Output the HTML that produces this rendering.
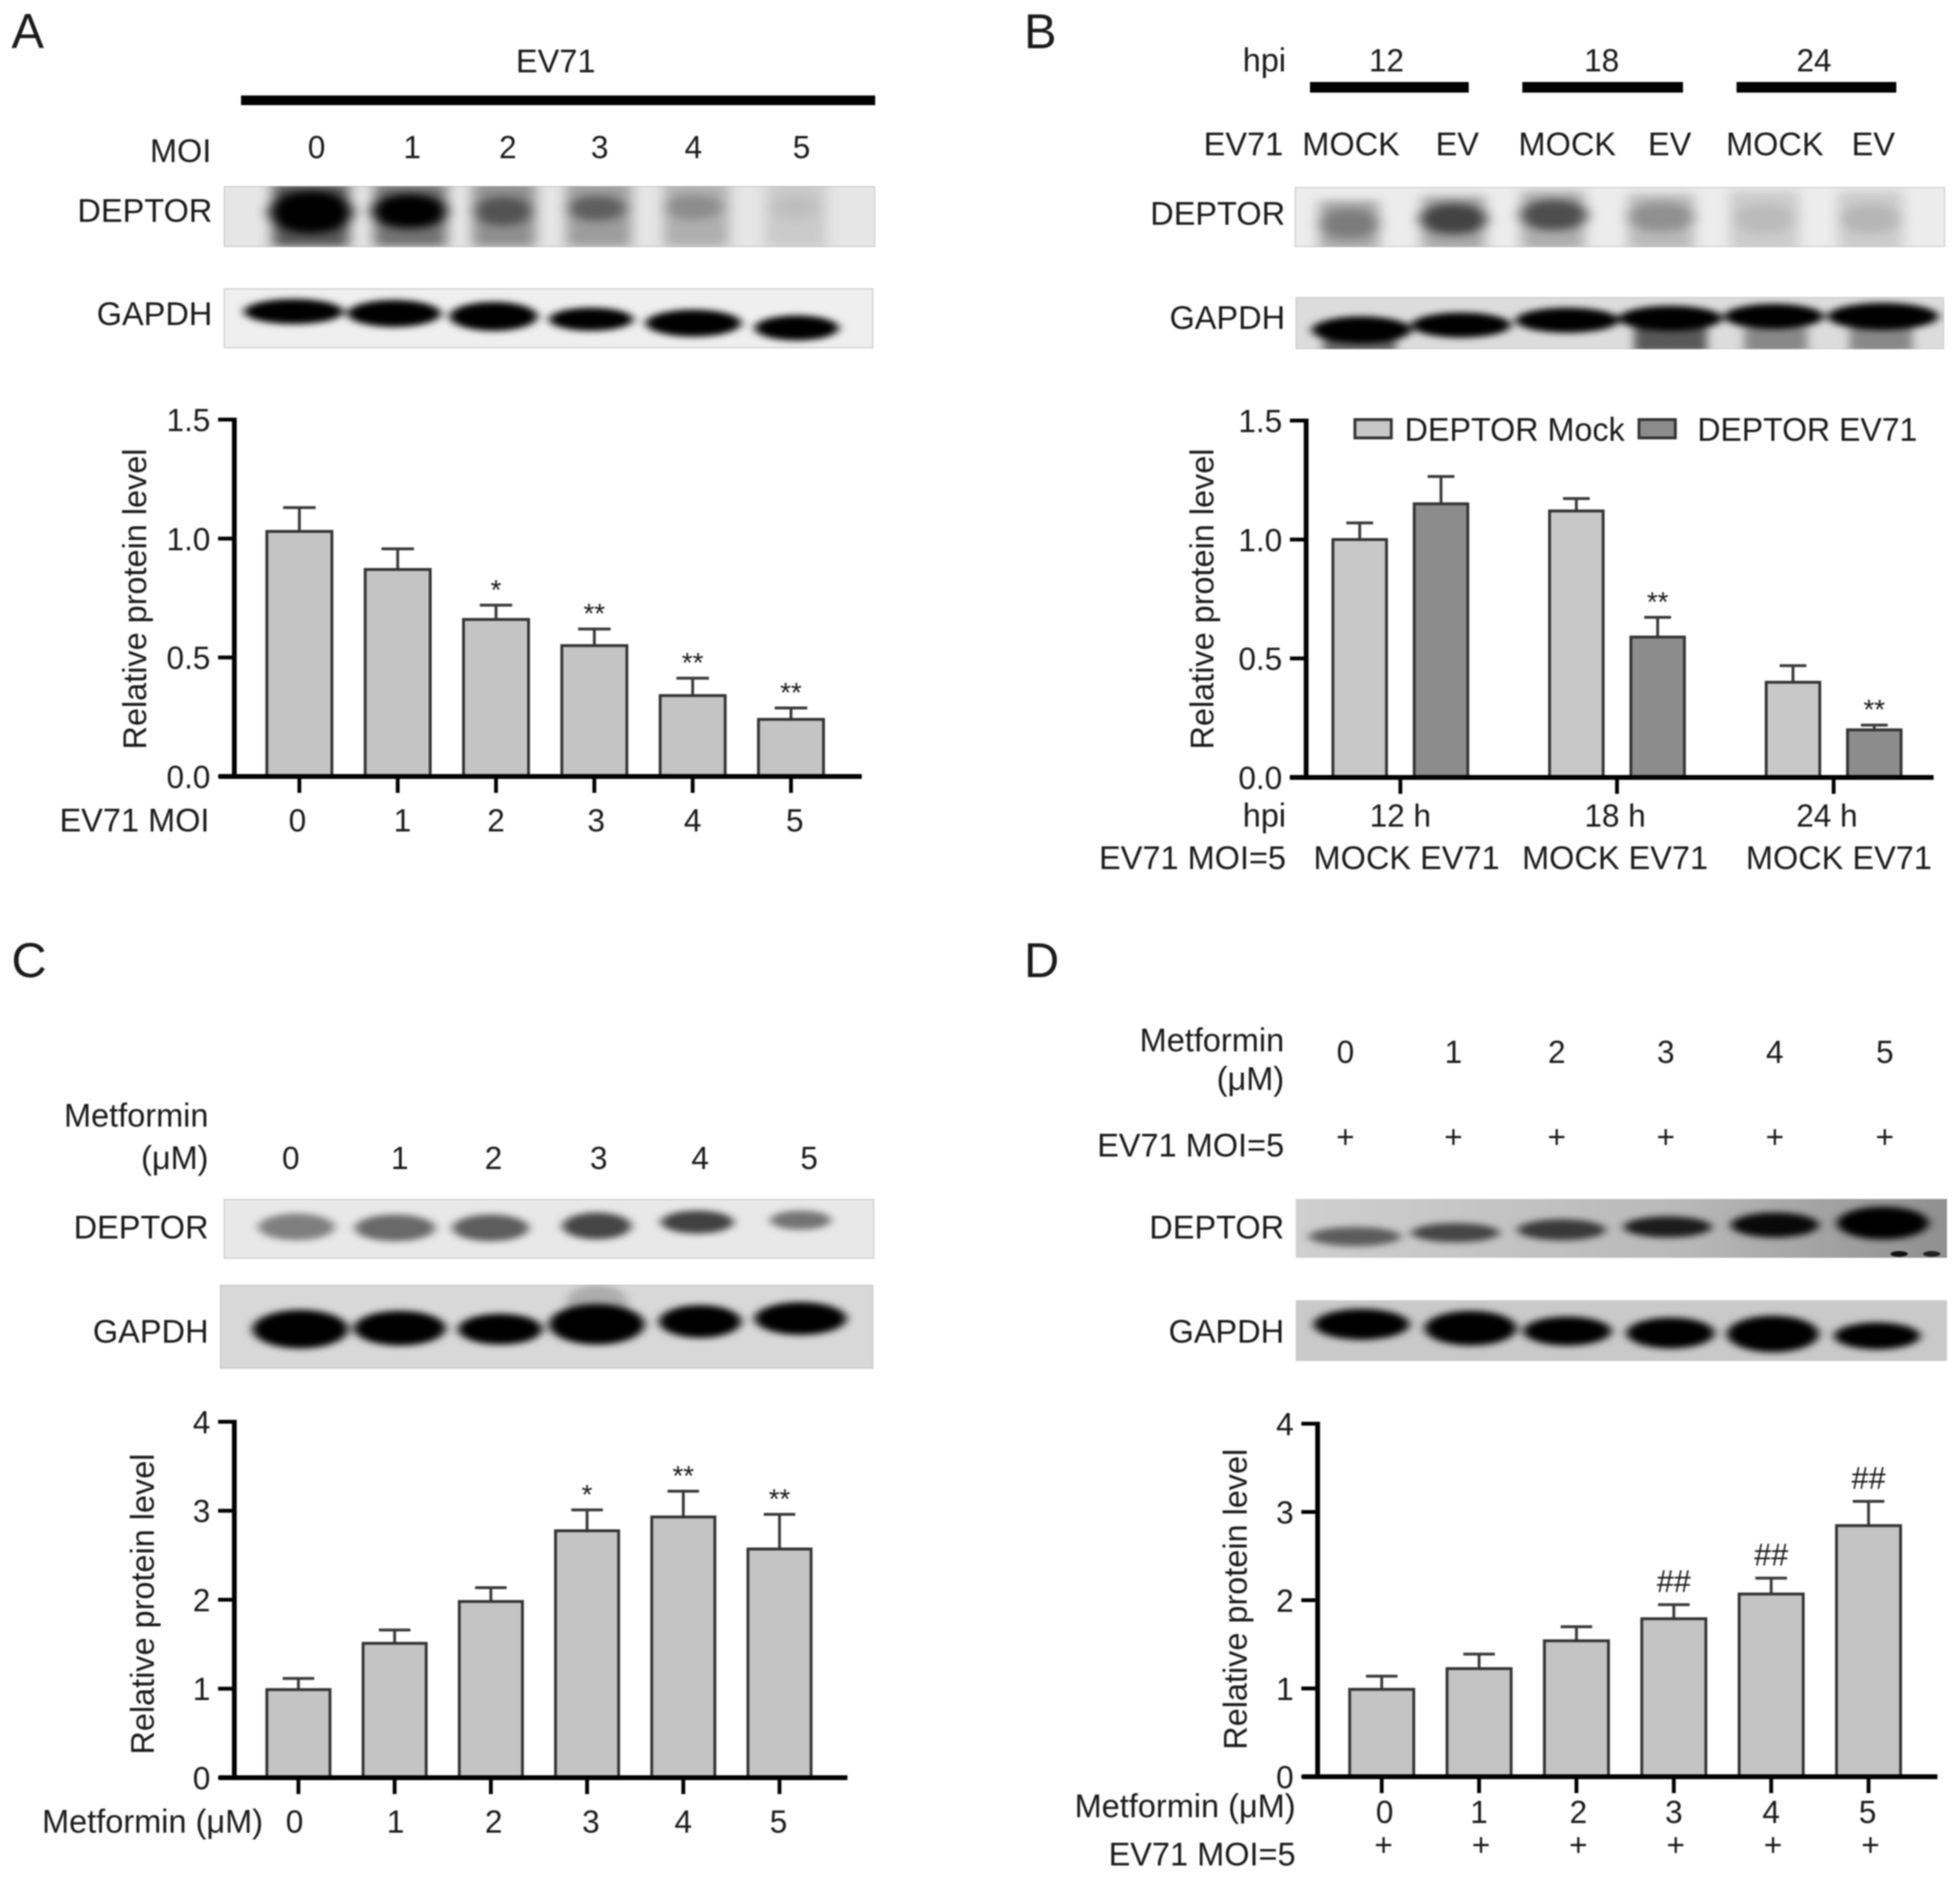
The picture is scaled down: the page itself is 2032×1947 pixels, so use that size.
<!DOCTYPE html>
<html lang="en"><head><meta charset="utf-8"><title>DEPTOR western blots and quantification</title>
<style>
html,body{margin:0;padding:0;background:#fff}
svg#fig{display:block;filter:blur(.7px)}
text{font-family:"Liberation Sans",sans-serif;fill:#1a1a1a;font-size:34px}
.n{font-size:33px}
.e{text-anchor:end}
.m{text-anchor:middle}
.p{font-size:51px}
</style></head><body>
<svg id="fig" xmlns="http://www.w3.org/2000/svg" width="2032" height="1947" viewBox="0 0 2032 1947">
<defs>
<filter id="b2" x="-40%" y="-80%" width="180%" height="260%"><feGaussianBlur stdDeviation="5 3.5"/></filter>
<filter id="b3" x="-40%" y="-80%" width="180%" height="260%"><feGaussianBlur stdDeviation="7 4.5"/></filter>
<linearGradient id="dgrad" x1="0" x2="1" y1="0" y2="0"><stop offset="0" stop-color="#cfcfcf"/><stop offset=".6" stop-color="#b8b8b8"/><stop offset="1" stop-color="#8f8f8f"/></linearGradient>
</defs>
<rect width="2032" height="1947" fill="#fff"/>

<g id="left-column" transform="scale(.9916 1)">
<text class="p" x="12" y="50">A</text>
<text class="p" x="12" y="1013">C</text>

<!-- Panel A header -->
<text class="m" x="581" y="75">EV71</text>
<rect x="252" y="99" width="663" height="10" fill="#000"/>
<text class="e" x="221" y="168">MOI</text>
<text class="n m" x="331" y="164">0</text>
<text class="n m" x="431" y="164">1</text>
<text class="n m" x="531" y="164">2</text>
<text class="n m" x="627" y="164">3</text>
<text class="n m" x="725" y="164">4</text>
<text class="n m" x="838" y="164">5</text>
<text class="e" x="222" y="230">DEPTOR</text>
<text class="e" x="222" y="337">GAPDH</text>

<!-- Blot A DEPTOR -->
<svg x="234" y="193" width="681" height="63" viewBox="234 193 681 63">
<rect x="234" y="193" width="681" height="63" fill="#e6e6e6" stroke="#c4c4c4" stroke-width="2"/>
<g filter="url(#b3)">
<rect x="285" y="190" width="80" height="66" fill="#000" opacity=".62"/>
<rect x="391" y="190" width="76" height="66" fill="#000" opacity=".5"/>
<rect x="494" y="190" width="66" height="66" fill="#000" opacity=".38"/>
<rect x="592" y="190" width="68" height="66" fill="#000" opacity=".32"/>
<rect x="694" y="190" width="68" height="66" fill="#000" opacity=".24"/>
<rect x="800" y="190" width="64" height="66" fill="#000" opacity=".12"/>
<ellipse cx="325" cy="220" rx="44" ry="22" fill="#000"/>
<ellipse cx="428" cy="219" rx="40" ry="18" fill="#000"/>
<ellipse cx="526" cy="219" rx="30" ry="15" fill="#000" opacity=".42"/>
<ellipse cx="624" cy="216" rx="30" ry="13" fill="#000" opacity=".4"/>
<ellipse cx="725" cy="215" rx="30" ry="13" fill="#000" opacity=".2"/>
<ellipse cx="832" cy="215" rx="24" ry="13" fill="#000" opacity=".06"/>
</g></svg>

<!-- Blot A GAPDH -->
<svg x="234" y="299" width="679" height="62" viewBox="234 299 679 62">
<rect x="234" y="299" width="679" height="62" fill="#efefef" stroke="#c4c4c4" stroke-width="2"/>
<g filter="url(#b2)">
<ellipse cx="307" cy="323" rx="52" ry="13" fill="#000"/>
<ellipse cx="412" cy="325" rx="49" ry="14" fill="#000"/>
<ellipse cx="516" cy="328" rx="46" ry="15" fill="#000"/>
<ellipse cx="618" cy="331" rx="44" ry="12" fill="#000"/>
<ellipse cx="725" cy="335" rx="50" ry="14" fill="#000"/>
<ellipse cx="833" cy="340" rx="44" ry="13" fill="#000"/>
</g></svg>

<!-- Panel C header -->
<text class="e" x="218" y="1168">Metformin</text>
<text class="e" x="218" y="1212">(μM)</text>
<text class="n m" x="304" y="1212">0</text>
<text class="n m" x="418" y="1212">1</text>
<text class="n m" x="516" y="1212">2</text>
<text class="n m" x="626" y="1212">3</text>
<text class="n m" x="732" y="1212">4</text>
<text class="n m" x="846" y="1212">5</text>
<text class="e" x="218" y="1284">DEPTOR</text>
<text class="e" x="218" y="1392">GAPDH</text>

<!-- Blot C DEPTOR -->
<svg x="234" y="1243" width="680" height="62" viewBox="234 1243 680 62">
<rect x="234" y="1243" width="680" height="62" fill="#e8e8e8" stroke="#c8c8c8" stroke-width="2"/>
<g filter="url(#b2)">
<ellipse cx="310" cy="1272" rx="40" ry="14" fill="#000" opacity=".45"/>
<ellipse cx="413" cy="1273" rx="42" ry="14" fill="#000" opacity=".55"/>
<ellipse cx="513" cy="1273" rx="40" ry="14" fill="#000" opacity=".6"/>
<ellipse cx="624" cy="1271" rx="36" ry="14" fill="#000" opacity=".7"/>
<ellipse cx="729" cy="1267" rx="38" ry="12" fill="#000" opacity=".72"/>
<ellipse cx="837" cy="1265" rx="32" ry="10" fill="#000" opacity=".5"/>
</g></svg>

<!-- Blot C GAPDH -->
<svg x="230" y="1332" width="683" height="87" viewBox="230 1332 683 87">
<rect x="230" y="1332" width="683" height="87" fill="#d8d8d8" stroke="#c4c4c4" stroke-width="2"/>
<g filter="url(#b2)">
<ellipse cx="624" cy="1350" rx="32" ry="18" fill="#000" opacity=".2"/>
<ellipse cx="314" cy="1378" rx="50" ry="20" fill="#000"/>
<ellipse cx="418" cy="1377" rx="48" ry="18" fill="#000"/>
<ellipse cx="523" cy="1378" rx="44" ry="16" fill="#000"/>
<ellipse cx="624" cy="1373" rx="50" ry="21" fill="#000"/>
<ellipse cx="732" cy="1370" rx="43" ry="17" fill="#000"/>
<ellipse cx="837" cy="1367" rx="48" ry="17" fill="#000"/>
</g></svg>

<text class="e" x="219" y="862">EV71 MOI</text>
<text class="e" x="275" y="1900">Metformin (μM)</text>
</g>

<g id="right-column" transform="translate(1016 0) scale(.9916 1) translate(-1016 0)">
<text class="p" x="1062" y="50">B</text>
<text class="p" x="1062" y="1013">D</text>

<!-- Panel B header -->
<text class="e" x="1336" y="74">hpi</text>
<text class="n m" x="1441" y="74">12</text>
<text class="n m" x="1666" y="74">18</text>
<text class="n m" x="1888" y="74">24</text>
<rect x="1361" y="85" width="166" height="11" fill="#000"/>
<rect x="1583" y="85" width="168" height="11" fill="#000"/>
<rect x="1807" y="85" width="167" height="11" fill="#000"/>
<text class="e" x="1333" y="161">EV71</text>
<text class="m" x="1404" y="161">MOCK</text>
<text class="m" x="1515" y="161">EV</text>
<text class="m" x="1630" y="161">MOCK</text>
<text class="m" x="1737" y="161">EV</text>
<text class="m" x="1847" y="161">MOCK</text>
<text class="m" x="1950" y="161">EV</text>
<text class="e" x="1335" y="233">DEPTOR</text>
<text class="e" x="1335" y="341">GAPDH</text>

<!-- Blot B DEPTOR -->
<svg x="1345" y="194" width="680" height="62" viewBox="1345 194 680 62">
<rect x="1345" y="194" width="680" height="62" fill="#ececec" stroke="#c8c8c8" stroke-width="2"/>
<g filter="url(#b3)">
<rect x="1371" y="208" width="62" height="50" fill="#000" opacity=".3"/>
<rect x="1478" y="203" width="66" height="55" fill="#000" opacity=".3"/>
<rect x="1582" y="198" width="66" height="60" fill="#000" opacity=".27"/>
<rect x="1694" y="201" width="68" height="57" fill="#000" opacity=".22"/>
<rect x="1800" y="198" width="72" height="60" fill="#000" opacity=".14"/>
<rect x="1913" y="198" width="68" height="60" fill="#000" opacity=".14"/>
<ellipse cx="1402" cy="232" rx="32" ry="15" fill="#000" opacity=".25"/>
<ellipse cx="1511" cy="227" rx="36" ry="16" fill="#000" opacity=".6"/>
<ellipse cx="1616" cy="223" rx="36" ry="16" fill="#000" opacity=".55"/>
<ellipse cx="1728" cy="225" rx="36" ry="15" fill="#000" opacity=".22"/>
<ellipse cx="1836" cy="227" rx="32" ry="15" fill="#000" opacity=".08"/>
<ellipse cx="1947" cy="227" rx="32" ry="15" fill="#000" opacity=".1"/>
</g></svg>

<!-- Blot B GAPDH -->
<svg x="1346" y="308" width="678" height="54" viewBox="1346 308 678 54">
<rect x="1346" y="308" width="678" height="54" fill="#dcdcdc" stroke="#c8c8c8" stroke-width="2"/>
<g filter="url(#b2)">
<rect x="1375" y="345" width="76" height="20" fill="#000" opacity=".55"/>
<rect x="1700" y="340" width="76" height="25" fill="#000" opacity=".6"/>
<rect x="1815" y="340" width="66" height="25" fill="#000" opacity=".38"/>
<rect x="1925" y="340" width="66" height="25" fill="#000" opacity=".38"/>
<ellipse cx="1415" cy="342" rx="52" ry="14" fill="#000"/>
<ellipse cx="1519" cy="337" rx="52" ry="13" fill="#000"/>
<ellipse cx="1630" cy="332" rx="54" ry="13" fill="#000"/>
<ellipse cx="1738" cy="330" rx="54" ry="13" fill="#000"/>
<ellipse cx="1846" cy="328" rx="52" ry="13" fill="#000"/>
<ellipse cx="1960" cy="328" rx="58" ry="14" fill="#000"/>
</g></svg>

<!-- Panel D header -->
<text class="e" x="1334" y="1090">Metformin</text>
<text class="e" x="1334" y="1130">(μM)</text>
<text class="n m" x="1398" y="1102">0</text>
<text class="n m" x="1511" y="1102">1</text>
<text class="n m" x="1619" y="1102">2</text>
<text class="n m" x="1733" y="1102">3</text>
<text class="n m" x="1847" y="1102">4</text>
<text class="n m" x="1962" y="1102">5</text>
<text class="e" x="1334" y="1199">EV71 MOI=5</text>
<text class="n m" x="1398" y="1190">+</text>
<text class="n m" x="1511" y="1190">+</text>
<text class="n m" x="1619" y="1190">+</text>
<text class="n m" x="1733" y="1190">+</text>
<text class="n m" x="1847" y="1190">+</text>
<text class="n m" x="1962" y="1190">+</text>
<text class="e" x="1334" y="1284">DEPTOR</text>
<text class="e" x="1334" y="1392">GAPDH</text>

<!-- Blot D DEPTOR -->
<svg x="1346" y="1243" width="681" height="61" viewBox="1346 1243 681 61">
<rect x="1346" y="1243" width="681" height="61" fill="url(#dgrad)"/>
<g filter="url(#b2)">
<ellipse cx="1408" cy="1282" rx="48" ry="10" fill="#000" opacity=".55"/>
<ellipse cx="1513" cy="1278" rx="46" ry="10" fill="#000" opacity=".65"/>
<ellipse cx="1624" cy="1275" rx="46" ry="11" fill="#000" opacity=".7"/>
<ellipse cx="1735" cy="1272" rx="46" ry="11" fill="#000" opacity=".85"/>
<ellipse cx="1847" cy="1270" rx="46" ry="13" fill="#000" opacity=".95"/>
<ellipse cx="1960" cy="1268" rx="48" ry="17" fill="#000"/>
</g>
<ellipse cx="1977" cy="1300" rx="9" ry="3" fill="#111"/>
<ellipse cx="2011" cy="1300" rx="9" ry="3" fill="#222"/>
</svg>

<!-- Blot D GAPDH -->
<svg x="1346" y="1348" width="681" height="63" viewBox="1346 1348 681 63">
<rect x="1346" y="1348" width="681" height="63" fill="#c9c9c9"/>
<g filter="url(#b2)">
<ellipse cx="1415" cy="1373" rx="50" ry="16" fill="#000"/>
<ellipse cx="1529" cy="1377" rx="48" ry="18" fill="#000"/>
<ellipse cx="1630" cy="1380" rx="46" ry="15" fill="#000"/>
<ellipse cx="1738" cy="1382" rx="46" ry="16" fill="#000"/>
<ellipse cx="1845" cy="1383" rx="48" ry="19" fill="#000"/>
<ellipse cx="1954" cy="1385" rx="45" ry="14" fill="#000"/>
</g></svg>

<text class="e" x="1336" y="857">hpi</text>
<text class="e" x="1336" y="901">EV71 MOI=5</text>
<text class="m" x="1462" y="901">MOCK EV71</text>
<text class="m" x="1680" y="901">MOCK EV71</text>
<text class="m" x="1914" y="901">MOCK EV71</text>
<text class="e" x="1346" y="1884">Metformin (μM)</text>
<text class="e" x="1346" y="1934">EV71 MOI=5</text>
</g>
</svg>

<script>
// Panel A
const aCategories = ['0', '1', '2', '3', '4', '5'];
const aValues = [1.03, 0.87, 0.66, 0.55, 0.34, 0.24];
const aErrors = [0.10, 0.087, 0.06, 0.07, 0.073, 0.048];
const aMarks = ['', '', '*', '**', '**', '**'];
const aTickValues = [0, 0.5, 1, 1.5];
const aTickLabels = ['0.0', '0.5', '1.0', '1.5'];

// Panel B
const bGroups = ['12 h', '18 h', '24 h'];
const bSeriesNames = ['DEPTOR Mock', 'DEPTOR EV71'];
const bMockValues = [1.0, 1.12, 0.40];
const bMockErrors = [0.07, 0.052, 0.07];
const bEv71Values = [1.15, 0.59, 0.20];
const bEv71Errors = [0.115, 0.083, 0.02];
const bEv71Marks = ['', '**', '**'];
const bTickValues = [0, 0.5, 1, 1.5];
const bTickLabels = ['0.0', '0.5', '1.0', '1.5'];

// Panel C
const cCategories = ['0', '1', '2', '3', '4', '5'];
const cValues = [0.99, 1.51, 1.98, 2.775, 2.93, 2.57];
const cErrors = [0.125, 0.15, 0.155, 0.235, 0.29, 0.39];
const cMarks = ['', '', '', '*', '**', '**'];
const cTickValues = [0, 1, 2, 3, 4];
const cTickLabels = ['0', '1', '2', '3', '4'];

// Panel D
const dCategories = ['0', '1', '2', '3', '4', '5'];
const dValues = [0.99, 1.225, 1.54, 1.79, 2.07, 2.845];
const dErrors = [0.15, 0.165, 0.16, 0.16, 0.18, 0.275];
const dMarks = ['', '', '', '##', '##', '##'];
const dTickValues = [0, 1, 2, 3, 4];
const dTickLabels = ['0', '1', '2', '3', '4'];

const NS = 'http://www.w3.org/2000/svg';
const leftColumn = document.getElementById('left-column');
const rightColumn = document.getElementById('right-column');

function node(tag, attrs, parent) {
  const el = document.createElementNS(NS, tag);
  for (const k in attrs) el.setAttribute(k, attrs[k]);
  parent.appendChild(el);
  return el;
}
function linearY(layout, tickValues) {
  const lo = tickValues[0], hi = tickValues[tickValues.length - 1];
  return v => layout.y0 - (v - lo) / (hi - lo) * (layout.y0 - layout.y1);
}
function indexX(layout) {
  return i => layout.first + i * layout.step;
}
function drawYAxis(g, layout, tickValues, tickLabels, y, prefix) {
  const line = node('line', {x1: layout.ax, x2: layout.ax, y1: layout.y1 - 2, y2: layout.y0, stroke: '#000', 'stroke-width': 5}, g);
  
  
  tickValues.forEach((v, i) => {
    const t = node('line', {x1: layout.ax - 17, x2: layout.ax, y1: y(v), y2: y(v), stroke: '#000', 'stroke-width': 4}, g);
    
    
    const lb = node('text', {x: layout.ax - 25, y: y(v) + 12, class: 'n e'}, g);
    
    
    lb.textContent = tickLabels[i];
  });
  const ty = (layout.y0 + layout.y1) / 2 + layout.titleDy;
  const title = node('text', {transform: 'translate(' + layout.titleX + ',' + ty + ') rotate(-90)', class: 'm', textLength: 312, lengthAdjust: 'spacingAndGlyphs', style: 'font-size:35px'}, g);
  
  
  title.textContent = 'Relative protein level';
}
function drawXAxis(g, layout, prefix) {
  const line = node('line', {x1: layout.xa0, x2: layout.xa1, y1: layout.y0, y2: layout.y0, stroke: '#000', 'stroke-width': 5}, g);
  
  
}
function drawXTick(g, layout, x, label, dx, prefix) {
  const t = node('line', {x1: x, x2: x, y1: layout.y0, y2: layout.y0 + 17, stroke: '#000', 'stroke-width': 4}, g);
  
  
  const lb = node('text', {x: x + dx, y: layout.labelY, class: 'n m'}, g);
  
  
  lb.textContent = label;
}
function drawBar(g, x, w, capW, value, err, mark, fill, y, prefix) {
  const ex = node('line', {x1: x, x2: x, y1: y(value), y2: y(value + err), stroke: '#3a3a3a', 'stroke-width': 3}, g);
  
  
  const cap = node('line', {x1: x - capW / 2, x2: x + capW / 2, y1: y(value + err), y2: y(value + err), stroke: '#3a3a3a', 'stroke-width': 3}, g);
  
  
  const r = node('rect', {x: x - w / 2, y: y(value), width: w, height: y(0) - y(value), fill: fill, stroke: '#333', 'stroke-width': 3}, g);
  
  
  if (mark) {
    const hash = mark[0] === '#';
    const m = node('text', {x: x, y: y(value + err) - (hash ? 13 : 6), class: 'm', style: 'font-size:' + (hash ? 32 : 29) + 'px'}, g);
    
    
    m.textContent = mark;
  }
}
function drawSimple(parent, prefix, layout, categories, values, errors, marks, tickValues, tickLabels) {
  const g = node('g', {}, parent);
  
  
  const y = linearY(layout, tickValues);
  const x = indexX(layout);
  categories.forEach((c, i) => {
    drawBar(g, x(i), layout.barW, layout.capW, values[i], errors[i], marks[i], '#c4c4c4', y, prefix + '-' + c);
  });
  drawYAxis(g, layout, tickValues, tickLabels, y, prefix);
  drawXAxis(g, layout, prefix);
  categories.forEach((c, i) => {
    drawXTick(g, layout, x(i), c, layout.labelDx[i], prefix);
  });
}

drawSimple(leftColumn, 'panel-a', {ax: 245, y0: 805, y1: 435, xa0: 229, xa1: 901, first: 313, step: 102.8, barW: 68, capW: 34, labelY: 862, titleX: 153, titleDy: 1, labelDx: [-2, 5, 0, 2, 0, 4]}, aCategories, aValues, aErrors, aMarks, aTickValues, aTickLabels);
drawSimple(leftColumn, 'panel-c', {ax: 245, y0: 1843, y1: 1474, xa0: 229, xa1: 886, first: 312, step: 100.6, barW: 66, capW: 33, labelY: 1900, titleX: 161, titleDy: 4.5, labelDx: [-4, 1, 3, 4, 0, -1]}, cCategories, cValues, cErrors, cMarks, cTickValues, cTickLabels);
drawSimple(rightColumn, 'panel-d', {ax: 1369, y0: 1842, y1: 1476, xa0: 1353, xa1: 2017, first: 1436, step: 101.8, barW: 67, capW: 33, labelY: 1890, titleX: 1295, titleDy: -1, labelDx: [3, 0, 2, 0, 0, -1]}, dCategories, dValues, dErrors, dMarks, dTickValues, dTickLabels);

// Panel B: grouped bars with legend
(function () {
  const layout = {ax: 1357, y0: 806, y1: 436, xa0: 1340, xa1: 2013, first: 1455.5, step: 226.5, barW: 56, capW: 28, labelY: 857, titleX: 1260, titleDy: 0};
  const g = node('g', {}, rightColumn);
  
  
  const y = linearY(layout, bTickValues);
  const x = indexX(layout);
  const fills = ['#c8c8c8', '#8c8c8c'];
  bGroups.forEach((c, i) => {
    drawBar(g, x(i) - 42.5, layout.barW, layout.capW, bMockValues[i], bMockErrors[i], '', fills[0], y, 'panel-b-mock-' + c.replace(' ', ''));
    drawBar(g, x(i) + 42.5, layout.barW, layout.capW, bEv71Values[i], bEv71Errors[i], bEv71Marks[i], fills[1], y, 'panel-b-ev71-' + c.replace(' ', ''));
  });
  drawYAxis(g, layout, bTickValues, bTickLabels, y, 'panel-b');
  drawXAxis(g, layout, 'panel-b');
  bGroups.forEach((c, i) => {
    drawXTick(g, layout, x(i), c, i === 2 ? -7 : (i === 1 ? -2 : 0), 'panel-b');
  });
  const swatchX = [1408, 1705];
  const textX = [1460, 1766];
  bSeriesNames.forEach((name, i) => {
    const s = node('rect', {x: swatchX[i], y: 435, width: 38, height: 19, fill: fills[i], stroke: '#333', 'stroke-width': 3}, g);
    
    
    const t = node('text', {x: textX[i], y: 457, textLength: 230, lengthAdjust: 'spacingAndGlyphs'}, g);
    
    
    t.textContent = name;
  });
})();

// Plus signs under panel D's axis follow its ticks
dCategories.forEach((c, i) => {
  const p = node('text', {x: 1436 + i * 101.8 + 2, y: 1924, class: 'n m'}, rightColumn);
  
  
  p.textContent = '+';
});
</script>
</body></html>
